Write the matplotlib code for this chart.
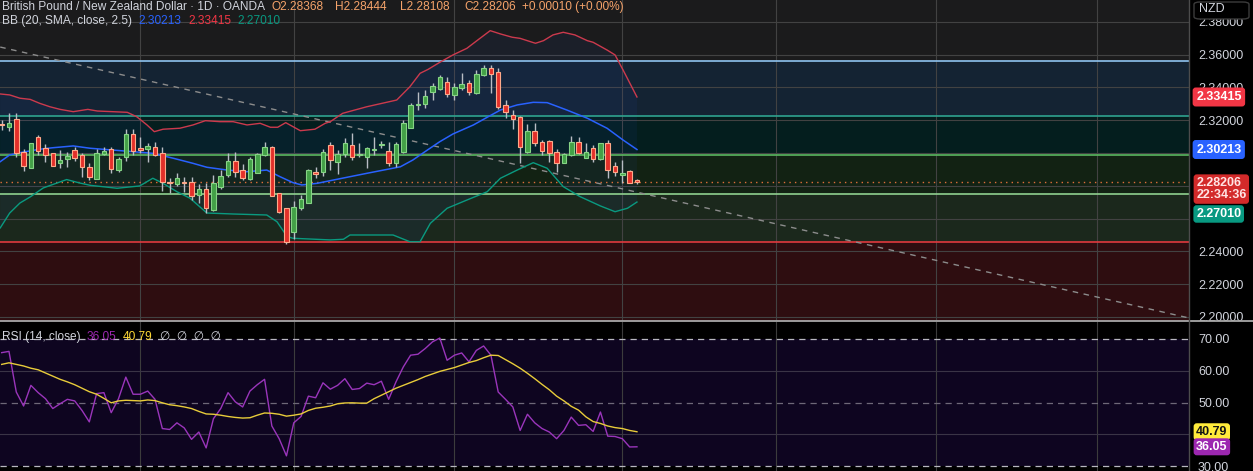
import matplotlib
matplotlib.use('Agg')
import matplotlib.pyplot as plt
import matplotlib.patches as mpatches
from matplotlib.lines import Line2D
import numpy as np

plt.rcParams['font.family'] = ['Liberation Sans', 'DejaVu Sans']

# GBP/NZD daily candles
opens = [2.3172, 2.3157, 2.3205, 2.3004, 2.2910, 2.3096, 2.3029, 2.2998, 2.2941, 2.2962,
         2.3018, 2.2986, 2.2913, 2.2843, 2.2996, 2.3024, 2.2896, 2.2977, 2.3114, 2.3029,
         2.3022, 2.3035, 2.2998, 2.2821, 2.2809, 2.2821, 2.2821, 2.2742, 2.2779, 2.2652,
         2.2791, 2.2866, 2.2951, 2.2896, 2.2841, 2.2880, 2.2988, 2.3035, 2.2754, 2.2663,
         2.2516, 2.2667, 2.2697, 2.2886, 2.2882, 2.3049, 2.2947, 2.2994, 2.3049, 2.2986,
         2.2977, 2.3020, 2.3047, 2.3014, 2.2937, 2.3008, 2.3154, 2.3294, 2.3297, 2.3370,
         2.3388, 2.3431, 2.3354, 2.3395, 2.3425, 2.3364, 2.3476, 2.3516, 2.3492, 2.3293,
         2.3232, 2.3218, 2.3008, 2.3136, 2.3065, 2.3073, 2.3008, 2.2941, 2.2988, 2.3065,
         2.2971, 2.3029, 2.2963, 2.3059, 2.2921, 2.2866, 2.2890, 2.28368]
highs = [2.3201, 2.3246, 2.3246, 2.3024, 2.3063, 2.3110, 2.3053, 2.3002, 2.3018, 2.3004,
         2.3038, 2.2998, 2.2941, 2.3023, 2.3035, 2.3038, 2.2977, 2.3146, 2.3146, 2.3099,
         2.3063, 2.3069, 2.3038, 2.2846, 2.2876, 2.2852, 2.2852, 2.2811, 2.2815, 2.2866,
         2.2896, 2.2998, 2.3004, 2.2933, 2.2977, 2.2998, 2.3065, 2.3045, 2.2758, 2.2667,
         2.2707, 2.2744, 2.2901, 2.2916, 2.3024, 2.3065, 2.3018, 2.3091, 2.3122, 2.3059,
         2.3038, 2.3099, 2.3073, 2.3065, 2.3069, 2.3201, 2.3305, 2.3374, 2.3384, 2.3425,
         2.3476, 2.3465, 2.3425, 2.3486, 2.3445, 2.3506, 2.3537, 2.3537, 2.3516, 2.3323,
         2.3262, 2.3226, 2.3177, 2.3181, 2.3079, 2.3079, 2.3024, 2.3002, 2.3106, 2.3099,
         2.3059, 2.3049, 2.3063, 2.3079, 2.2943, 2.2957, 2.2896, 2.28444]
lows = [2.3140, 2.3136, 2.2974, 2.2892, 2.2908, 2.2988, 2.2947, 2.2921, 2.2910, 2.2916,
        2.2953, 2.2852, 2.2835, 2.2840, 2.2988, 2.2880, 2.2882, 2.2953, 2.2988, 2.2998,
        2.2943, 2.2982, 2.2770, 2.2754, 2.2799, 2.2764, 2.2713, 2.2697, 2.2636, 2.2648,
        2.2780, 2.2856, 2.2856, 2.2835, 2.2835, 2.2876, 2.2982, 2.2738, 2.2636, 2.2445,
        2.2474, 2.2652, 2.2693, 2.2846, 2.2862, 2.2896, 2.2872, 2.2977, 2.2957, 2.2977,
        2.2910, 2.2988, 2.3030, 2.2923, 2.2916, 2.3000, 2.3150, 2.3262, 2.3272, 2.3323,
        2.3384, 2.3343, 2.3323, 2.3384, 2.3354, 2.3358, 2.3471, 2.3364, 2.3268, 2.3215,
        2.3146, 2.2937, 2.3002, 2.3043, 2.2988, 2.2943, 2.2882, 2.2937, 2.2984, 2.2992,
        2.2968, 2.2947, 2.2959, 2.2849, 2.2862, 2.2815, 2.2815, 2.28108]
closes = [2.3169, 2.3185, 2.2998, 2.2923, 2.3059, 2.3014, 2.2988, 2.2923, 2.2957, 2.2984,
          2.2968, 2.2913, 2.2856, 2.2998, 2.3012, 2.2901, 2.2963, 2.3114, 2.3014, 2.3016,
          2.3043, 2.2990, 2.2821, 2.2817, 2.2849, 2.2815, 2.2740, 2.2779, 2.2663, 2.2815,
          2.2860, 2.2951, 2.2882, 2.2849, 2.2962, 2.2992, 2.3035, 2.2740, 2.2642, 2.2459,
          2.2669, 2.2718, 2.2896, 2.2872, 2.3008, 2.2955, 2.2994, 2.3059, 2.2977, 2.2990,
          2.3030, 2.3024, 2.3051, 2.2937, 2.3053, 2.3185, 2.3293, 2.3299, 2.3349, 2.3409,
          2.3465, 2.3358, 2.3404, 2.3419, 2.3370, 2.3480, 2.3520, 2.3482, 2.3282, 2.3248,
          2.3206, 2.3038, 2.3136, 2.3059, 2.3014, 2.2998, 2.2941, 2.2994, 2.3065, 2.3002,
          2.3004, 2.2962, 2.3059, 2.2896, 2.2886, 2.2880, 2.2820, 2.28206]

# Bollinger Bands (20, SMA, close, 2.5), sampled at candle index
bb_up_x = [-0.2, 1.1, 2.5, 3.9, 5.2, 6.6, 8.0, 9.8, 11.8, 13.1, 15.2, 17.2, 18.5, 19.9,
           20.9, 22.1, 24.4, 26.2, 27.9, 29.9, 31.7, 33.6, 35.4, 36.8, 37.8, 38.9, 40.9,
           42.9, 44.3, 45.0, 46.7, 50.0, 54.1, 55.9, 57.3, 58.4, 60.0, 61.8, 63.7, 65.2,
           66.9, 68.3, 69.9, 71.0, 73.1, 74.2, 75.5, 76.9, 78.5, 80.2, 81.0, 82.9, 84.0,
           85.1, 87.0]
bb_up = [2.3360, 2.3354, 2.3334, 2.3327, 2.3303, 2.3282, 2.3266, 2.3252, 2.3266, 2.3256,
         2.3252, 2.3248, 2.3221, 2.3171, 2.3130, 2.3145, 2.3151, 2.3171, 2.3197, 2.3191,
         2.3191, 2.3171, 2.3181, 2.3157, 2.3157, 2.3185, 2.3136, 2.3145, 2.3181, 2.3191,
         2.3242, 2.3282, 2.3323, 2.3404, 2.3486, 2.3510, 2.3553, 2.3598, 2.3638, 2.3689,
         2.3746, 2.3726, 2.3706, 2.3699, 2.3669, 2.3685, 2.3720, 2.3736, 2.3720, 2.3685,
         2.3675, 2.3628, 2.3598, 2.3506, 2.33415]
bb_mid_x = [-0.2, 1.1, 2.5, 5.2, 7.0, 9.8, 12.1, 15.2, 18.0, 20.7, 23.5, 26.2, 28.1, 30.9,
            33.6, 36.3, 38.1, 39.9, 41.1, 43.2, 45.4, 50.0, 54.6, 56.3, 58.3, 60.0, 61.8,
            64.6, 66.5, 68.3, 70.6, 72.8, 74.7, 77.4, 80.2, 82.9, 85.1, 87.0]
bb_mid = [2.2947, 2.2988, 2.3002, 2.3023, 2.3032, 2.3043, 2.3029, 2.3018, 2.3008, 2.2998,
          2.2968, 2.2937, 2.2913, 2.2896, 2.2886, 2.2896, 2.2856, 2.2819, 2.2805, 2.2815,
          2.2835, 2.2876, 2.2916, 2.2957, 2.3018, 2.3069, 2.3116, 2.3171, 2.3218, 2.3262,
          2.3293, 2.3309, 2.3307, 2.3262, 2.3212, 2.3151, 2.3079, 2.30213]
bb_lo_x = [-0.2, 1.1, 2.5, 3.9, 5.7, 8.9, 10.7, 12.1, 15.8, 18.9, 20.7, 22.1, 24.0, 25.8,
           28.1, 31.7, 36.3, 37.7, 39.1, 39.9, 45.0, 46.8, 47.7, 53.6, 55.9, 57.3, 58.7,
           61.0, 63.7, 66.5, 68.3, 70.6, 72.8, 74.7, 76.9, 79.2, 82.0, 84.0, 85.7, 87.0]
bb_lo = [2.2543, 2.2634, 2.2695, 2.2732, 2.2787, 2.2838, 2.2817, 2.2803, 2.2785, 2.2799,
         2.2846, 2.2815, 2.2764, 2.2724, 2.2634, 2.2628, 2.2622, 2.2581, 2.2490, 2.2480,
         2.2470, 2.2474, 2.2500, 2.2500, 2.2459, 2.2459, 2.2571, 2.2663, 2.2713, 2.2764,
         2.2846, 2.2896, 2.2941, 2.2907, 2.2795, 2.2734, 2.2677, 2.2642, 2.2663, 2.27010]

# RSI (14, close) and its moving average
rsi = [65.7, 66.1, 53.3, 48.9, 55.4, 53.1, 51.2, 48.1, 49.6, 51.0,
       50.5, 47.5, 43.9, 52.8, 53.1, 46.8, 51.2, 58.0, 52.6, 52.6,
       53.6, 51.0, 41.8, 41.5, 43.6, 42.0, 38.4, 40.7, 35.7, 44.9,
       48.1, 53.1, 50.2, 48.6, 53.6, 55.6, 57.3, 42.6, 38.6, 33.2,
       43.6, 45.6, 52.0, 51.5, 56.2, 54.2, 55.4, 57.5, 54.1, 54.4,
       56.1, 55.6, 56.7, 51.0, 56.5, 61.2, 64.9, 65.2, 67.0, 69.1,
       70.3, 63.3, 64.9, 65.6, 62.8, 66.4, 67.8, 64.9, 53.3, 51.0,
       48.6, 41.2, 46.3, 43.6, 41.8, 40.7, 38.6, 41.2, 45.4, 42.8,
       43.0, 40.9, 47.0, 39.4, 39.3, 38.6, 36.0, 36.05]
rsi_ma = [62.0, 62.5, 62.0, 61.5, 60.8, 60.3, 59.3, 58.3, 57.3, 56.5,
          55.6, 54.5, 53.4, 52.6, 51.3, 49.9, 50.5, 50.7, 50.6, 50.5,
          50.8, 50.6, 49.9, 49.3, 49.0, 48.6, 48.1, 47.2, 46.4, 46.3,
          46.0, 45.6, 45.3, 45.1, 45.2, 46.0, 46.7, 46.6, 46.3, 45.7,
          46.0, 46.4, 47.5, 48.2, 48.5, 48.9, 49.6, 49.85, 49.9, 49.8,
          49.8, 51.2, 52.3, 53.4, 54.5, 55.4, 56.3, 57.2, 58.2, 59.0,
          59.8, 60.4, 61.0, 61.8, 62.6, 63.2, 64.1, 64.9, 64.8, 63.5,
          62.2, 60.8, 59.2, 57.5, 55.7, 54.0, 52.0, 50.5, 48.8, 47.6,
          45.5, 44.0, 43.4, 42.6, 42.1, 41.8, 41.2, 40.79]

# horizontal levels and the zones between them (top to bottom)
levels = [2.35591, 2.32238, 2.29878, 2.27482, 2.24555]
level_colors = ['#8ec3f0', '#2fa38f', '#5cb860', '#8fd18f', '#e0393e']
zone_colors = ['#1b1b1c', '#142333', '#041e1e', '#122213', '#1b281c', '#2e0d10']

trend_x = [-0.2, 162.6]
trend_y = [2.3646, 2.1994]

month_idx = [19, 40, 62, 85, 106, 128, 150]
price_ticks = [2.20, 2.22, 2.24, 2.26, 2.28, 2.30, 2.32, 2.34, 2.36, 2.38]
hidden_price_ticks = [2.26, 2.28, 2.30]   # covered by the value tags
rsi_ticks = [30, 40, 50, 60, 70]
hidden_rsi_ticks = [40]

last_price = 2.28206
countdown = '22:34:36'
bb_mid_last, bb_up_last, bb_lo_last = 2.30213, 2.33415, 2.27010
rsi_last, rsi_ma_last = 36.05, 40.79

W, H = 1253, 471
fig = plt.figure(figsize=(W / 100, H / 100), dpi=100, facecolor='black')
ax = fig.add_axes([0, 1 - 321 / H, 1189 / W, 321 / H])
ax2 = fig.add_axes([0, 0, 1189 / W, 149 / H])
ax2.set_zorder(2)

xlim = (-0.23, 162.6)

# ---------- price panel ----------
ax.set_xlim(*xlim)
ylo, yhi = 2.19756, 2.39329
ax.set_ylim(ylo, yhi)
ax.set_facecolor(zone_colors[0])
bounds = [yhi] + levels + [ylo]
for i, zc in enumerate(zone_colors):
    ax.axhspan(bounds[i + 1], bounds[i], color=zc, lw=0, zorder=0.2)
for lv, lc in zip(levels, level_colors):
    ax.axhline(lv, color=lc, lw=1.2, zorder=1.5)

ax.set_yticks(price_ticks)
ax.set_yticklabels(['' if v in hidden_price_ticks else f'{v:.5f}' for v in price_ticks])
ax.set_xticks(month_idx)
ax.set_axisbelow(True)
ax.grid(True, color='#424242', lw=0.8)
ax.yaxis.tick_right()
ax.tick_params(axis='y', length=0, pad=6.5, labelsize=9, labelcolor='#d1d4dc')
ax.tick_params(axis='x', length=0, labelbottom=False)
for s in ax.spines.values():
    s.set_visible(False)

# trend line + current price
ax.plot(trend_x, trend_y, color='#8c8c8c', lw=1, ls=(0, (4, 4)), zorder=2)
ax.axhline(last_price, color='#e0703a', lw=1, ls=(0, (1, 3)), zorder=2)

# bollinger bands
bux, bu = np.array(bb_up_x), np.array(bb_up)
blx, bl = np.array(bb_lo_x), np.array(bb_lo)
ax.fill(np.r_[bux, blx[::-1]], np.r_[bu, bl[::-1]], color='#2962ff', alpha=0.06, lw=0, zorder=1)
ax.plot(bb_up_x, bb_up, color='#cc3a4d', lw=1, zorder=2.5)
ax.plot(bb_mid_x, bb_mid, color='#2962ff', lw=1.1, zorder=2.5)
ax.plot(bb_lo_x, bb_lo, color='#0a9a80', lw=1, zorder=2.5)

# candles
o, h, l, c = map(np.array, (opens, highs, lows, closes))
x = np.arange(len(c))
bull = c >= o
ax.vlines(x, l, h, color='#b8bcc4', lw=1, zorder=3)
body_lo = np.minimum(o, c)
body_h = np.maximum(np.abs(c - o), 0.0006)
ax.bar(x[bull], body_h[bull], bottom=body_lo[bull], width=0.62, color='#43a047',
       edgecolor='#86d486', lw=0.8, zorder=4)
ax.bar(x[~bull], body_h[~bull], bottom=body_lo[~bull], width=0.62, color='#e3302a',
       edgecolor='#ffa98a', lw=0.8, zorder=4)


def price_tag(a, y, text, fc, tc, dy=0, va='center', pad=0.28, ls=1.2):
    a.annotate(text, xy=(1.006, y), xycoords=a.get_yaxis_transform(),
               xytext=(0, dy), textcoords='offset points', ha='left', va=va,
               fontsize=9, color=tc, fontweight='bold', annotation_clip=False,
               linespacing=ls,
               bbox=dict(boxstyle=f'round,pad={pad},rounding_size=0.25', fc=fc, ec='none'),
               zorder=10)


price_tag(ax, bb_up_last, f'{bb_up_last:.5f}', '#f23645', 'white')
price_tag(ax, bb_mid_last, f'{bb_mid_last:.5f}', '#2962ff', 'white')
price_tag(ax, last_price, f'{last_price:.5f}\n{countdown}', '#d32a2a', '#ffe4e4',
          dy=4, va='top', pad=0.2, ls=1.05)
# TradingView pushes the lower band tag below the last-price tag
price_tag(ax, bb_lo_last, f'{bb_lo_last:.5f}', '#089981', 'white', dy=-8.6, pad=0.22)

# ---------- RSI panel ----------
ax2.set_xlim(*xlim)
ax2.set_ylim(28.43, 75.35)
ax2.set_facecolor('black')
ax2.axhspan(30, 70, color='#0e0520', lw=0, zorder=0.2)
for xv in month_idx:
    ax2.axvline(xv, color='#3c3c3c', lw=0.8, zorder=0.5)
for yv in (40, 60):
    ax2.axhline(yv, color='#3a3446', lw=0.8, zorder=0.5)
for yv in (30, 70):
    ax2.axhline(yv, color='#b8b8c0', lw=0.9, ls=(0, (5, 4)), zorder=0.6)
ax2.axhline(50, color='#6e6878', lw=0.9, ls=(0, (5, 4)), zorder=0.6)
ax2.plot(x, rsi, color='#9a35bb', lw=1, zorder=2)
ax2.plot(x, rsi_ma, color='#e8cc3a', lw=1, zorder=2.5)
ax2.set_yticks(rsi_ticks)
ax2.set_yticklabels(['' if v in hidden_rsi_ticks else f'{v:.2f}' for v in rsi_ticks])
ax2.yaxis.tick_right()
ax2.tick_params(axis='y', length=0, pad=6.5, labelsize=9, labelcolor='#d1d4dc')
ax2.tick_params(axis='x', length=0, labelbottom=False)
ax2.set_xticks([])
for s in ax2.spines.values():
    s.set_visible(False)
price_tag(ax2, rsi_ma_last, f'{rsi_ma_last:.2f}', '#ffeb3b', '#131313', pad=0.2)
price_tag(ax2, rsi_last, f'{rsi_last:.2f}', '#9c27b0', 'white', pad=0.2)

# ---------- frame pieces ----------
fig.add_artist(mpatches.Rectangle((1189 / W, 0), 1 - 1189 / W, 149 / H, transform=fig.transFigure,
                                  fc='black', ec='none', zorder=1))
fig.add_artist(Line2D([0, 1], [1 - 321 / H] * 2, transform=fig.transFigure, color='#a8a8a8', lw=1.3, zorder=3))
fig.add_artist(Line2D([1189 / W] * 2, [0, 1], transform=fig.transFigure, color='#4c4c4c', lw=1, zorder=3))
fig.add_artist(mpatches.FancyBboxPatch((1194 / W, 1 - 19 / H), 55 / W, 17 / H, transform=fig.transFigure,
                                       boxstyle='round,pad=0,rounding_size=0.005', fc='black',
                                       ec='#3c3c3c', lw=1, zorder=4))
fig.text(1212 / W, 1 - 9 / H, 'NZD', color='#d1d4dc', fontsize=9, ha='center', va='center', zorder=5)

renderer = fig.canvas.get_renderer()


def legend_line(y, parts, size=8.6, gap=6):
    # each part starts at its spot in the reference, or after the previous one
    end = None
    for txt, xp, col in parts:
        xs = xp if end is None else max(xp, end + gap)
        t = fig.text(xs / W, 1 - y / H, txt, color=col, fontsize=size, ha='left', va='center', zorder=5)
        end = t.get_window_extent(renderer).x1


grey, orange = '#d1d4dc', '#f5a36a'
legend_line(7, [('British Pound / New Zealand Dollar · 1D · OANDA', 2, grey),
                ('O2.28368', 266, orange), ('H2.28444', 335, orange),
                ('L2.28108', 400, orange), ('C2.28206', 464, orange),
                ('+0.00010 (+0.00%)', 522, orange)])
legend_line(21, [('BB (20, SMA, close, 2.5)', 2, grey), (f'{bb_mid_last:.5f}', 138, '#2962ff'),
                 (f'{bb_up_last:.5f}', 188, '#f23645'), (f'{bb_lo_last:.5f}', 237, '#089981')])
legend_line(337, [('RSI (14, close)', 2, grey), (f'{rsi_last:.2f}', 86, '#9c27b0'),
                  (f'{rsi_ma_last:.2f}', 123, '#fdd835'), ('∅  ∅  ∅  ∅', 160, grey)])

fig.savefig('out.png', dpi=100, facecolor='black')
